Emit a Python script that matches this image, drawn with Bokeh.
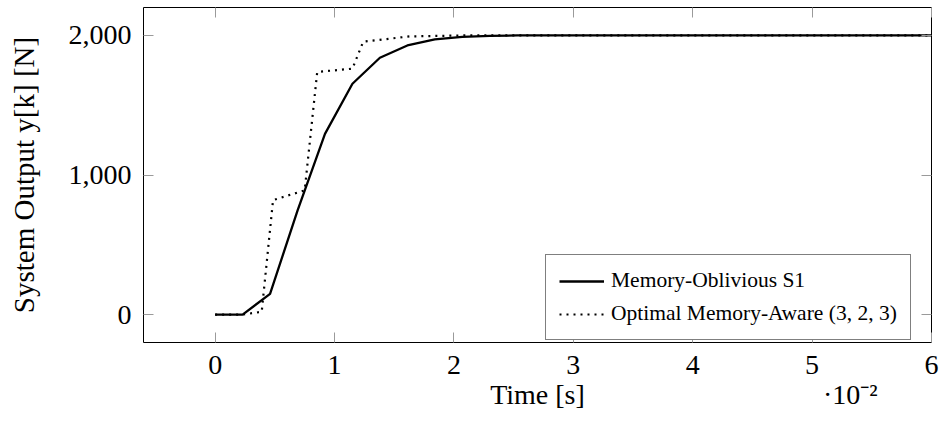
from bokeh.plotting import figure
from bokeh.models import (LinearAxis, FixedTicker, NumeralTickFormatter, Range1d,
                          Legend, LegendItem)
from bokeh.embed import file_html
from bokeh.resources import INLINE

# ---- data (time in units of 1e-2 s) ----
t_s1 = [0, 0.23, 0.46, 0.69, 0.92, 1.15, 1.38, 1.61, 1.84, 2.07, 2.30, 2.53, 6.0]
y_s1 = [0, 0, 148, 745, 1295, 1654, 1840, 1928, 1972, 1990, 1997, 2000, 2000]

t_opt = [0, 0.23, 0.39, 0.485, 0.75, 0.855, 1.15, 1.24, 1.63, 2.1, 6.0]
y_opt = [0, 0, 20, 820, 890, 1738, 1762, 1955, 1993, 2000, 2000]

x_ticks = [0, 1, 2, 3, 4, 5, 6]
y_ticks = [0, 1000, 2000]

label_s1 = "Memory-Oblivious S1"
label_opt = "Optimal Memory-Aware (3, 2, 3)"
x_label = "Time [s]"
x_scale_note = "·10⁻²"
y_label = "System Output y[k] [N]"

x_label_pos = 2.7
x_note_pos = 5.32

FONT = "Liberation Serif"
TICK_COL = "#9a9a9a"

p = figure(width=939, height=428, output_backend="svg", toolbar_location=None,
           x_range=Range1d(-0.6, 6.0), y_range=Range1d(-200, 2200),
           min_border_left=143, min_border_right=8, min_border_top=7,
           min_border_bottom=86)
p.xgrid.visible = False
p.ygrid.visible = False
p.outline_line_color = "black"
p.outline_line_width = 1
p.background_fill_color = "white"
p.border_fill_color = "white"

for ax in (p.xaxis[0], p.yaxis[0]):
    ax.major_tick_in = 10
    ax.major_tick_out = 0
    ax.minor_tick_in = 0
    ax.minor_tick_out = 0
    ax.major_tick_line_color = TICK_COL
    ax.axis_line_color = None
    ax.major_label_text_font = FONT
    ax.major_label_text_font_size = "28px"
    ax.major_label_text_color = "black"
    ax.axis_label_text_font = FONT
    ax.axis_label_text_font_size = "29px"
    ax.axis_label_text_font_style = "normal"
    ax.axis_label_text_color = "black"

p.xaxis[0].ticker = FixedTicker(ticks=x_ticks)
p.yaxis[0].ticker = FixedTicker(ticks=y_ticks)
p.yaxis[0].formatter = NumeralTickFormatter(format="0,0")
p.yaxis[0].axis_label = y_label
p.xaxis[0].major_label_standoff = 13
p.yaxis[0].major_label_standoff = 12
p.yaxis[0].axis_label_standoff = 26

# second row under the x axis: "Time [s]" and the scale note
note_axis = LinearAxis(ticker=FixedTicker(ticks=[x_label_pos, x_note_pos]),
                       major_label_overrides={x_label_pos: x_label,
                                              x_note_pos: x_scale_note})
note_axis.major_tick_line_color = None
note_axis.minor_tick_line_color = None
note_axis.axis_line_color = None
note_axis.major_tick_in = 0
note_axis.major_tick_out = 0
note_axis.major_label_standoff = 2
note_axis.major_label_text_font = FONT
note_axis.major_label_text_font_size = "28px"
note_axis.major_label_text_color = "black"
p.add_layout(note_axis, "below")

# mirrored inward ticks on top and right
for side, ticks in (("above", x_ticks), ("right", y_ticks)):
    ax = LinearAxis(ticker=FixedTicker(ticks=ticks))
    ax.major_tick_in = 10
    ax.major_tick_out = 0
    ax.minor_tick_in = 0
    ax.minor_tick_out = 0
    ax.major_tick_line_color = TICK_COL
    ax.axis_line_color = None
    ax.major_label_text_font_size = "0px"
    ax.major_label_text_color = None
    ax.major_label_standoff = 0
    p.add_layout(ax, side)

r1 = p.line(t_s1, y_s1, line_color="black", line_width=2.3)
r2 = p.line(t_opt, y_opt, line_color="black", line_width=2.2, line_dash="2 5")

legend = Legend(items=[LegendItem(label=label_s1, renderers=[r1]),
                       LegendItem(label=label_opt, renderers=[r2])],
                location=(402, 2))
legend.margin = 0
legend.padding = 13
legend.spacing = 8
legend.glyph_width = 45
legend.glyph_height = 22
legend.label_height = 22
legend.label_standoff = 7
legend.label_text_font = FONT
legend.label_text_font_size = "21.5px"
legend.label_text_color = "black"
legend.border_line_color = "black"
legend.border_line_width = 1
legend.background_fill_color = "white"
legend.background_fill_alpha = 1.0
p.add_layout(legend, "center")

open("out.html", "w").write(file_html(p, INLINE))
